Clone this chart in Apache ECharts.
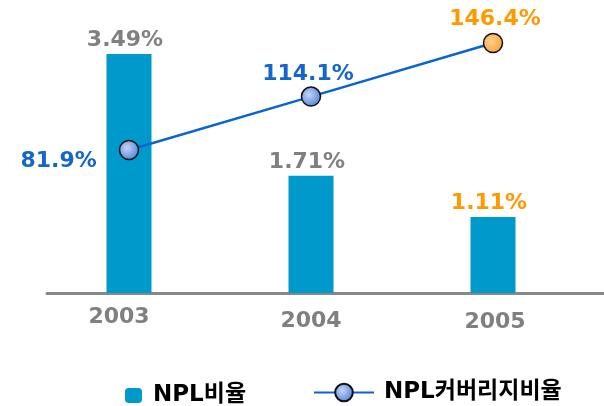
<!DOCTYPE html>
<html>
<head>
<meta charset="utf-8">
<script src="https://cdn.jsdelivr.net/npm/echarts@6/dist/echarts.min.js"></script>
<style>
  html, body { margin: 0; padding: 0; background: #fff; }
  #main { width: 604px; height: 406px; }
</style>
</head>
<body>
<div id="main"></div>
<script>
var years = ['2003', '2004', '2005'];
var nplRatio = [3.49, 1.71, 1.11];
var coverageRatio = [81.9, 114.1, 146.4];
var nplLabelColors = ['#808080', '#808080', '#ff9900'];
var coverageLabelColors = ['#1466cc', '#1466cc', '#ff9900'];

var chart = echarts.init(document.getElementById('main'));
var FONT = '"DejaVu Sans", "Noto Sans CJK KR", sans-serif';

var blueBall = {
  type: 'radial', x: 0.4, y: 0.4, r: 0.65,
  colorStops: [{offset: 0, color: '#c3d6f5'}, {offset: 1, color: '#4f7fd6'}]
};
var orangeBall = {
  type: 'radial', x: 0.4, y: 0.4, r: 0.65,
  colorStops: [{offset: 0, color: '#ffcf8a'}, {offset: 1, color: '#f9a23c'}]
};

// small per-label nudges to follow the original layout
var yearPads = [[0, 20, 0, 0], [4, 0, 0, 0], [5, 0, 0, 4]];
var yearData = years.map(function (y, i) {
  return { value: y, textStyle: { padding: yearPads[i] } };
});

var barData = nplRatio.map(function (v, i) {
  return { value: v, label: { color: nplLabelColors[i] } };
});
var lineData = coverageRatio.map(function (v, i) {
  var d = { value: v, label: { color: coverageLabelColors[i] } };
  if (i === 0) { d.label.position = 'left'; d.label.distance = 22; d.label.offset = [0, 11]; }
  if (i === 1) { d.label.distance = 1; d.label.offset = [-3, 0]; }
  if (i === 2) { d.label.offset = [2, 0]; d.itemStyle = { color: orangeBall }; }
  return d;
});

var option = {
  animation: false,
  grid: [
    { left: 38, width: 546, top: 19, bottom: 113 },
    { left: 47, right: 0, top: 19, bottom: 113 }
  ],
  legend: [
    {
      data: ['NPL비율'], left: 125, top: 384, padding: 0,
      itemWidth: 17, itemHeight: 15,
      textStyle: { fontFamily: FONT, fontSize: 23, fontWeight: 'bold', color: '#000', padding: [0, 0, 0, 6] }
    },
    {
      data: ['NPL커버리지비율'], left: 313, top: 381, padding: 0,
      itemWidth: 60, itemHeight: 22,
      textStyle: { fontFamily: FONT, fontSize: 23, fontWeight: 'bold', color: '#000', padding: [0, 0, 0, 5] }
    }
  ],
  xAxis: [
    {
      type: 'category', data: yearData, gridIndex: 0,
      axisLine: { show: false }, axisTick: { show: false },
      axisLabel: { margin: 13, fontFamily: FONT, fontSize: 22, fontWeight: 'bold', color: '#808080' }
    },
    {
      type: 'value', gridIndex: 1, min: 0, max: 1,
      axisLine: { show: true, lineStyle: { color: '#888', width: 3 } },
      axisTick: { show: false }, axisLabel: { show: false }, splitLine: { show: false }
    }
  ],
  yAxis: [
    { type: 'value', gridIndex: 0, min: 0, max: 4, show: false },
    { type: 'value', gridIndex: 0, min: -4.3, max: 160.9, show: false },
    { type: 'value', gridIndex: 1, show: false }
  ],
  series: [
    {
      name: 'NPL비율', type: 'bar', xAxisIndex: 0, yAxisIndex: 0,
      barWidth: 45, data: barData,
      itemStyle: { color: '#0099cc' },
      label: {
        show: true, position: 'top', distance: 3, offset: [-4, 0],
        fontFamily: FONT, fontSize: 22, fontWeight: 'bold',
        formatter: function (p) { return p.value.toFixed(2) + '%'; }
      }
    },
    {
      name: 'NPL커버리지비율', type: 'line', xAxisIndex: 0, yAxisIndex: 1,
      data: lineData, symbol: 'circle', symbolSize: 19,
      lineStyle: { color: '#0a64d0', width: 2.5 },
      itemStyle: { color: blueBall, borderColor: '#111', borderWidth: 1.5 },
      label: {
        show: true, position: 'top', distance: 3,
        fontFamily: FONT, fontSize: 22, fontWeight: 'bold',
        formatter: function (p) { return p.value.toFixed(1) + '%'; }
      },
      z: 3
    }
  ]
};
chart.setOption(option);
</script>
</body>
</html>
